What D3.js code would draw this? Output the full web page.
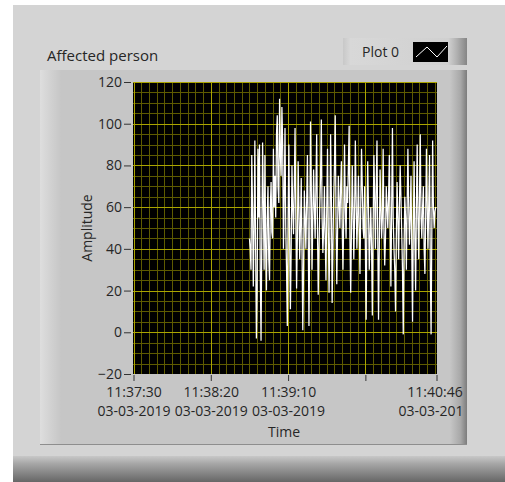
<!DOCTYPE html>
<html>
<head>
<meta charset="utf-8">
<script src="https://cdn.jsdelivr.net/npm/d3@7"></script>
<style>
html, body { margin: 0; padding: 0; background: #fff; }
svg { display: block; font-family: "Open Sans", sans-serif; }
</style>
</head>
<body>
<div id="chart"></div>
<script>
'use strict';

// values, two samples per second from 11:38:45
var chartTitle = "Affected person";
var legendLabel = "Plot 0";
var xTitle = "Time";
var yTitle = "Amplitude";
var startTime = "2019-03-03 11:38:45";
var sampleStepMs = 500;
var amplitudeValues = [
    45, 40, 30, 85, 60, 22, 50, 92, 40, -3, 20, 88, 55, 90, 30, -4, 45, 91, 62, 30,
    85, 40, 20, 55, 70, 35, 25, 60, 72, 48, 45, 88, 60, 75, 55, 95, 104, 70, 62, 112,
    85, 75, 108, 90, 40, 65, 98, 50, 30, 3, 55, 90, 45, 11, 40, 80, 60, 47, 70, 98,
    55, 21, 45, 82, 60, 35, 50, 74, 40, 1, 30, 68, 55, 40, 62, 85, 50, 3, 45, 101,
    70, 30, 55, 78, 60, 45, 70, 95, 50, 18, 40, 60, 75, 102, 55, 38, 50, 70, 45, 25,
    60, 88, 50, 19, 45, 95, 65, 14, 40, 65, 80, 104, 55, 23, 48, 75, 62, 50, 70, 82,
    50, 30, 55, 90, 60, 45, 70, 62, 80, 99, 45, 19, 50, 80, 60, 35, 55, 92, 65, 40,
    55, 75, 50, 28, 60, 88, 70, 50, 45, 70, 40, 6, 55, 82, 60, 30, 45, 60, 40, 8,
    50, 85, 65, 40, 70, 92, 45, 6, 40, 78, 60, 45, 55, 88, 50, 32, 45, 70, 60, 50,
    65, 85, 50, 22, 60, 98, 55, 40, 30, 10, 45, 72, 55, 35, 60, 80, 65, 48, 30, -1,
    40, 65, 55, 30, 60, 88, 62, 42, 55, 75, 40, 5, 50, 82, 45, 20, 60, 90, 55, 35,
    65, 95, 55, 45, 60, 70, 40, 28, 55, 88, 60, 40, 62, 85, 30, -1, 50, 92, 60, 50,
    58, 60
];
var yTickValues = [-20, 0, 20, 40, 60, 80, 100, 120];
var xTickTimes = ["11:37:30", "11:38:20", "11:39:10", "11:40:00", "11:40:46"];
var xTickLabels = ["11:37:30", "11:38:20", "11:39:10", "", "11:40:46"];
var xTickDate = "03-03-2019";
var xDomainTimes = ["11:37:30", "11:40:46"];
var yDomain = [-20, 120];

var config = {
    width: 505,
    height: 482,
    plot: { left: 133, right: 437, top: 82, bottom: 374 },
    panel: { left: 40, right: 467, top: 70, bottom: 445 },
    font: { tick: 14, label: 14, title: 15 },
    color: {
        back: "#d4d4d4",
        text: "#262626",
        minor: "#5e5b00",
        major: "#aaa400",
        line: "#ffffff"
    }
};

var parseFull = d3.timeParse("%Y-%m-%d %H:%M:%S");
var parseClock = function (t) { return parseFull("2019-03-03 " + t); };

var t0 = parseFull(startTime);
var samples = amplitudeValues.map(function (v, i) {
    return { t: d3.timeMillisecond.offset(t0, i * sampleStepMs), v: v };
});

var p = config.plot;
var x = d3.scaleTime()
    .domain(xDomainTimes.map(parseClock))
    .range([p.left + 0.5, p.right - 0.5]);
var y = d3.scaleLinear()
    .domain(yDomain)
    .range([p.bottom, p.top]);

var svg = d3.select("#chart").append("svg")
    .attr("width", config.width)
    .attr("height", config.height);

var defs = svg.append("defs");
function makeGrad(id, stops, vertical) {
    var g = defs.append("linearGradient").attr("id", id)
        .attr("x1", 0).attr("y1", 0)
        .attr("x2", vertical ? 0 : 1).attr("y2", vertical ? 1 : 0);
    stops.forEach(function (s) {
        g.append("stop").attr("offset", s[0]).attr("stop-color", s[1]);
    });
}
makeGrad("panelGrad", [[0, "#dedede"], [0.03, "#cfcfcf"], [0.05, "#c6c6c6"], [0.96, "#c6c6c6"], [0.985, "#a8a8a8"], [1, "#7c7c7c"]]);
makeGrad("legendGrad", [[0, "#c8c8c8"], [0.06, "#d8d8d8"], [0.85, "#d0d0d0"], [0.92, "#b0b0b0"], [1, "#858585"]]);
makeGrad("bottomGrad", [[0, "#c8c8c8"], [0.3, "#a6a6a6"], [1, "#666666"]], true);

defs.append("clipPath").attr("id", "plotClip")
    .append("rect")
    .attr("x", p.left).attr("y", p.top)
    .attr("width", p.right - p.left).attr("height", p.bottom - p.top);
defs.append("clipPath").attr("id", "panelClip")
    .append("rect")
    .attr("x", config.panel.left).attr("y", config.panel.top)
    .attr("width", 463 - config.panel.left).attr("height", config.panel.bottom - config.panel.top);

// window background
svg.append("rect").attr("x", 13).attr("y", 5)
    .attr("width", config.width - 13).attr("height", config.height - 5)
    .attr("fill", config.color.back);
svg.append("rect").attr("x", 13).attr("y", 456)
    .attr("width", config.width - 13).attr("height", config.height - 456)
    .attr("fill", "url(#bottomGrad)");

// chart panel
var pn = config.panel;
svg.append("rect")
    .attr("x", pn.left).attr("y", pn.top)
    .attr("width", pn.right - pn.left).attr("height", pn.bottom - pn.top)
    .attr("fill", "url(#panelGrad)");
svg.append("line")
    .attr("x1", pn.left).attr("x2", pn.right)
    .attr("y1", pn.bottom - 0.5).attr("y2", pn.bottom - 0.5)
    .attr("stroke", "#8e8e8e");

// title
svg.append("text")
    .attr("x", 47).attr("y", 61)
    .attr("font-size", config.font.title)
    .attr("fill", config.color.text)
    .text(chartTitle);

// legend
var legend = svg.append("g");
legend.append("rect")
    .attr("x", 343).attr("y", 38).attr("width", 124).attr("height", 27)
    .attr("fill", "url(#legendGrad)");
legend.append("text")
    .attr("x", 362).attr("y", 57)
    .attr("font-size", config.font.label)
    .attr("fill", config.color.text)
    .text(legendLabel);
legend.append("rect")
    .attr("x", 413).attr("y", 42).attr("width", 35).attr("height", 20)
    .attr("fill", "#000");
legend.append("path")
    .attr("d", d3.line()([[416, 57], [427, 47], [437, 57], [447, 46]]))
    .attr("fill", "none").attr("stroke", "#fff").attr("stroke-width", 1);

// plot area and grid
svg.append("rect")
    .attr("x", p.left).attr("y", p.top)
    .attr("width", p.right - p.left).attr("height", p.bottom - p.top)
    .attr("fill", "#000");

var grid = svg.append("g").attr("clip-path", "url(#plotClip)");
var xMinor = d3.timeSecond.every(5).range(x.domain()[0], x.domain()[1]);
var yMinor = d3.range(yDomain[0], yDomain[1] + 1, 5);
var xMajor = xTickTimes.map(parseClock);

grid.selectAll(".vminor").data(xMinor).enter().append("line")
    .attr("x1", function (d) { return Math.round(x(d)) + 0.5; })
    .attr("x2", function (d) { return Math.round(x(d)) + 0.5; })
    .attr("y1", p.top).attr("y2", p.bottom)
    .attr("stroke", config.color.minor);
grid.selectAll(".hminor").data(yMinor).enter().append("line")
    .attr("y1", function (d) { return Math.round(y(d)) + 0.5; })
    .attr("y2", function (d) { return Math.round(y(d)) + 0.5; })
    .attr("x1", p.left).attr("x2", p.right)
    .attr("stroke", config.color.minor);
grid.selectAll(".vmajor").data(xMajor).enter().append("line")
    .attr("x1", function (d) { return Math.round(x(d)) + 0.5; })
    .attr("x2", function (d) { return Math.round(x(d)) + 0.5; })
    .attr("y1", p.top).attr("y2", p.bottom)
    .attr("stroke", config.color.major);
grid.selectAll(".hmajor").data(yTickValues).enter().append("line")
    .attr("y1", function (d) { return Math.round(y(d)) + 0.5; })
    .attr("y2", function (d) { return Math.round(y(d)) + 0.5; })
    .attr("x1", p.left).attr("x2", p.right)
    .attr("stroke", config.color.major);

// signal
var line = d3.line()
    .x(function (d) { return x(d.t); })
    .y(function (d) { return y(d.v); });
svg.append("g").attr("clip-path", "url(#plotClip)")
    .append("path")
    .datum(samples)
    .attr("d", line)
    .attr("fill", "none")
    .attr("stroke", config.color.line)
    .attr("stroke-width", 1.25);

// y axis
var yAxis = svg.append("g")
    .attr("transform", "translate(" + (p.left - 2) + ",0)")
    .call(d3.axisLeft(y).tickValues(yTickValues).tickSize(7).tickPadding(2).tickFormat(d3.format("d")));
yAxis.select(".domain").remove();
yAxis.selectAll(".tick line").attr("stroke", "#333");
yAxis.selectAll(".tick text")
    .attr("font-size", config.font.tick)
    .attr("font-family", "Open Sans, sans-serif")
    .attr("fill", config.color.text);

svg.append("text")
    .attr("transform", "translate(92," + ((p.top + p.bottom) / 2) + ") rotate(-90)")
    .attr("text-anchor", "middle")
    .attr("font-size", config.font.label)
    .attr("fill", config.color.text)
    .text(yTitle);

// x axis (outer group clips the last date label at the panel edge)
var xAxis = svg.append("g")
    .attr("clip-path", "url(#panelClip)")
    .append("g")
    .attr("transform", "translate(0," + (p.bottom + 1) + ")")
    .call(d3.axisBottom(x).tickValues(xMajor).tickSize(6).tickFormat(""));
xAxis.select(".domain").remove();
xAxis.selectAll(".tick line").attr("stroke", "#333");
xAxis.selectAll(".tick").each(function (d, i) {
    if (!xTickLabels[i]) return;
    var dx = i === xTickLabels.length - 1 ? -2 : 0;
    var t = d3.select(this).append("text")
        .attr("text-anchor", "middle")
        .attr("font-size", config.font.tick)
        .attr("font-family", "Open Sans, sans-serif")
        .attr("fill", config.color.text);
    t.append("tspan").attr("x", dx).attr("y", 22).text(xTickLabels[i]);
    t.append("tspan").attr("x", dx).attr("y", 41).text(xTickDate);
});

svg.append("text")
    .attr("x", (p.left + p.right) / 2 - 1).attr("y", 437)
    .attr("text-anchor", "middle")
    .attr("font-size", config.font.label)
    .attr("fill", config.color.text)
    .text(xTitle);
</script>
</body>
</html>
